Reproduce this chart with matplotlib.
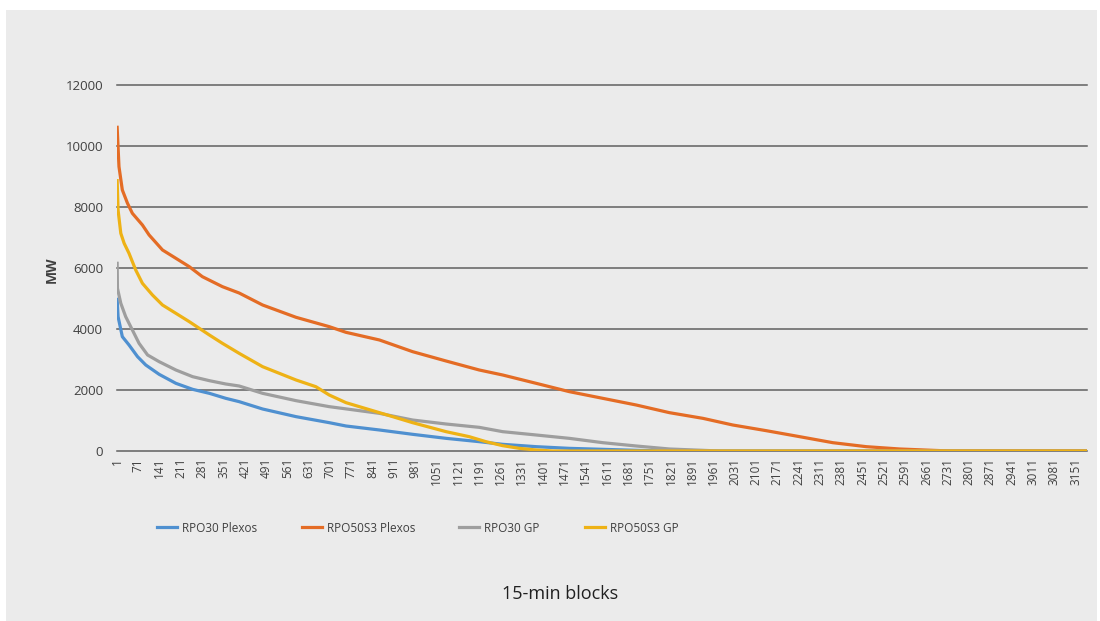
import matplotlib
matplotlib.use('Agg')
import matplotlib.pyplot as plt
from matplotlib.patches import Rectangle

plt.rcParams['font.family'] = ['Open Sans', 'DejaVu Sans']

# number of 15-min blocks and tick labels
n_blocks = 3188
tick_blocks = list(range(1, 3152, 70))

# duration curves (block index, MW)
blue_x = [1, 4, 18, 40, 68, 95, 139, 194, 249, 304, 358, 402, 479, 589, 698, 753, 863,
          972, 1082, 1191, 1268, 1378, 1487, 1597, 1707, 1800, 3188]
blue_y = [4973, 4405, 3749, 3476, 3093, 2820, 2514, 2219, 2022, 1891, 1727, 1618, 1377,
          1126, 929, 820, 689, 547, 415, 306, 219, 142, 87, 55, 22, 0, 0]

orange_x = [1, 7, 18, 35, 51, 84, 106, 150, 194, 238, 281, 347, 402, 479, 589, 698, 753,
            863, 972, 1082, 1191, 1268, 1378, 1487, 1597, 1707, 1816, 1926, 2024, 2134,
            2244, 2353, 2463, 2573, 2682, 2740, 3188]
orange_y = [10613, 9323, 8558, 8121, 7793, 7410, 7083, 6591, 6318, 6044, 5716, 5388, 5180,
            4787, 4383, 4077, 3891, 3640, 3257, 2951, 2656, 2492, 2219, 1946, 1727, 1508,
            1257, 1071, 853, 667, 470, 273, 142, 66, 22, 0, 0]

gray_x = [1, 2, 13, 29, 51, 73, 101, 139, 194, 249, 304, 358, 402, 479, 589, 698, 863,
          972, 1082, 1191, 1268, 1378, 1487, 1597, 1707, 1816, 1926, 1980, 3188]
gray_y = [6154, 5334, 4842, 4405, 3968, 3530, 3148, 2929, 2656, 2437, 2306, 2197, 2131,
          1891, 1650, 1454, 1235, 1016, 885, 776, 634, 525, 415, 273, 164, 66, 22, 0, 0]

yellow_x = [1, 4, 13, 24, 40, 62, 84, 117, 150, 194, 238, 271, 304, 347, 402, 479, 589,
            654, 698, 753, 863, 972, 1082, 1158, 1213, 1268, 1323, 1378, 1433, 3188]
yellow_y = [8864, 7902, 7137, 6809, 6481, 5935, 5498, 5115, 4787, 4514, 4241, 4022, 3804,
            3530, 3202, 2765, 2328, 2109, 1836, 1585, 1257, 929, 634, 470, 306, 175, 87,
            33, 0, 0]

fig = plt.figure(figsize=(11, 6.21), dpi=100)
fig.patch.set_facecolor('white')
# grey panel behind everything
fig.patches.append(Rectangle((6 / 1100, 0), 1091 / 1100, 1 - 10 / 621,
                             transform=fig.transFigure, facecolor='#ebebeb',
                             edgecolor='none', zorder=-1))

ax = fig.add_axes([117 / 1100, 1 - 451 / 621, 970 / 1100, 366 / 621])
ax.set_facecolor('none')

lw = 2.3
lines = []
lines += ax.plot(blue_x, blue_y, color='#4f90d0', lw=lw, label='RPO30 Plexos')
lines += ax.plot(orange_x, orange_y, color='#e46c25', lw=lw, label='RPO50S3 Plexos')
lines += ax.plot(gray_x, gray_y, color='#9e9e9e', lw=lw, label='RPO30 GP')
lines += ax.plot(yellow_x, yellow_y, color='#eeb215', lw=lw, label='RPO50S3 GP')

ax.set_xlim(0.5, n_blocks + 0.5)
ax.set_ylim(0, 12000)
ax.set_yticks(range(0, 12001, 2000))
ax.set_xticks(tick_blocks)
ax.set_xticklabels([str(b) for b in tick_blocks], rotation=90, fontsize=8.5, color='#404040')
ax.tick_params(axis='y', length=0, pad=10, labelsize=9.5, labelcolor='#404040')
ax.tick_params(axis='x', length=0, pad=5)
ax.grid(axis='y', color='#606060', lw=1.1)
for gl in ax.get_ygridlines():
    gl.set_clip_on(False)
ax.set_axisbelow(True)
for s in ax.spines.values():
    s.set_visible(False)

fig.text(52 / 1100, 1 - 270 / 621, 'MW', rotation=90, ha='center', va='center',
         fontsize=10, fontweight='bold', color='#404040')
fig.text(560 / 1100, 1 - 594 / 621, '15-min blocks', ha='center', va='center',
         fontsize=13, color='#202020')

# one legend per entry so each sits where it does in the original
legend_x = [157, 302, 459, 585]
for line, lx in zip(lines, legend_x):
    fig.legend(handles=[line], loc='center left', bbox_to_anchor=(lx / 1100, 1 - 528 / 621),
               frameon=False, borderaxespad=0, borderpad=0, handlelength=1.7,
               handletextpad=0.45, fontsize=8.5, labelcolor='#404040')

fig.savefig('out.png', dpi=100, facecolor=fig.get_facecolor())
